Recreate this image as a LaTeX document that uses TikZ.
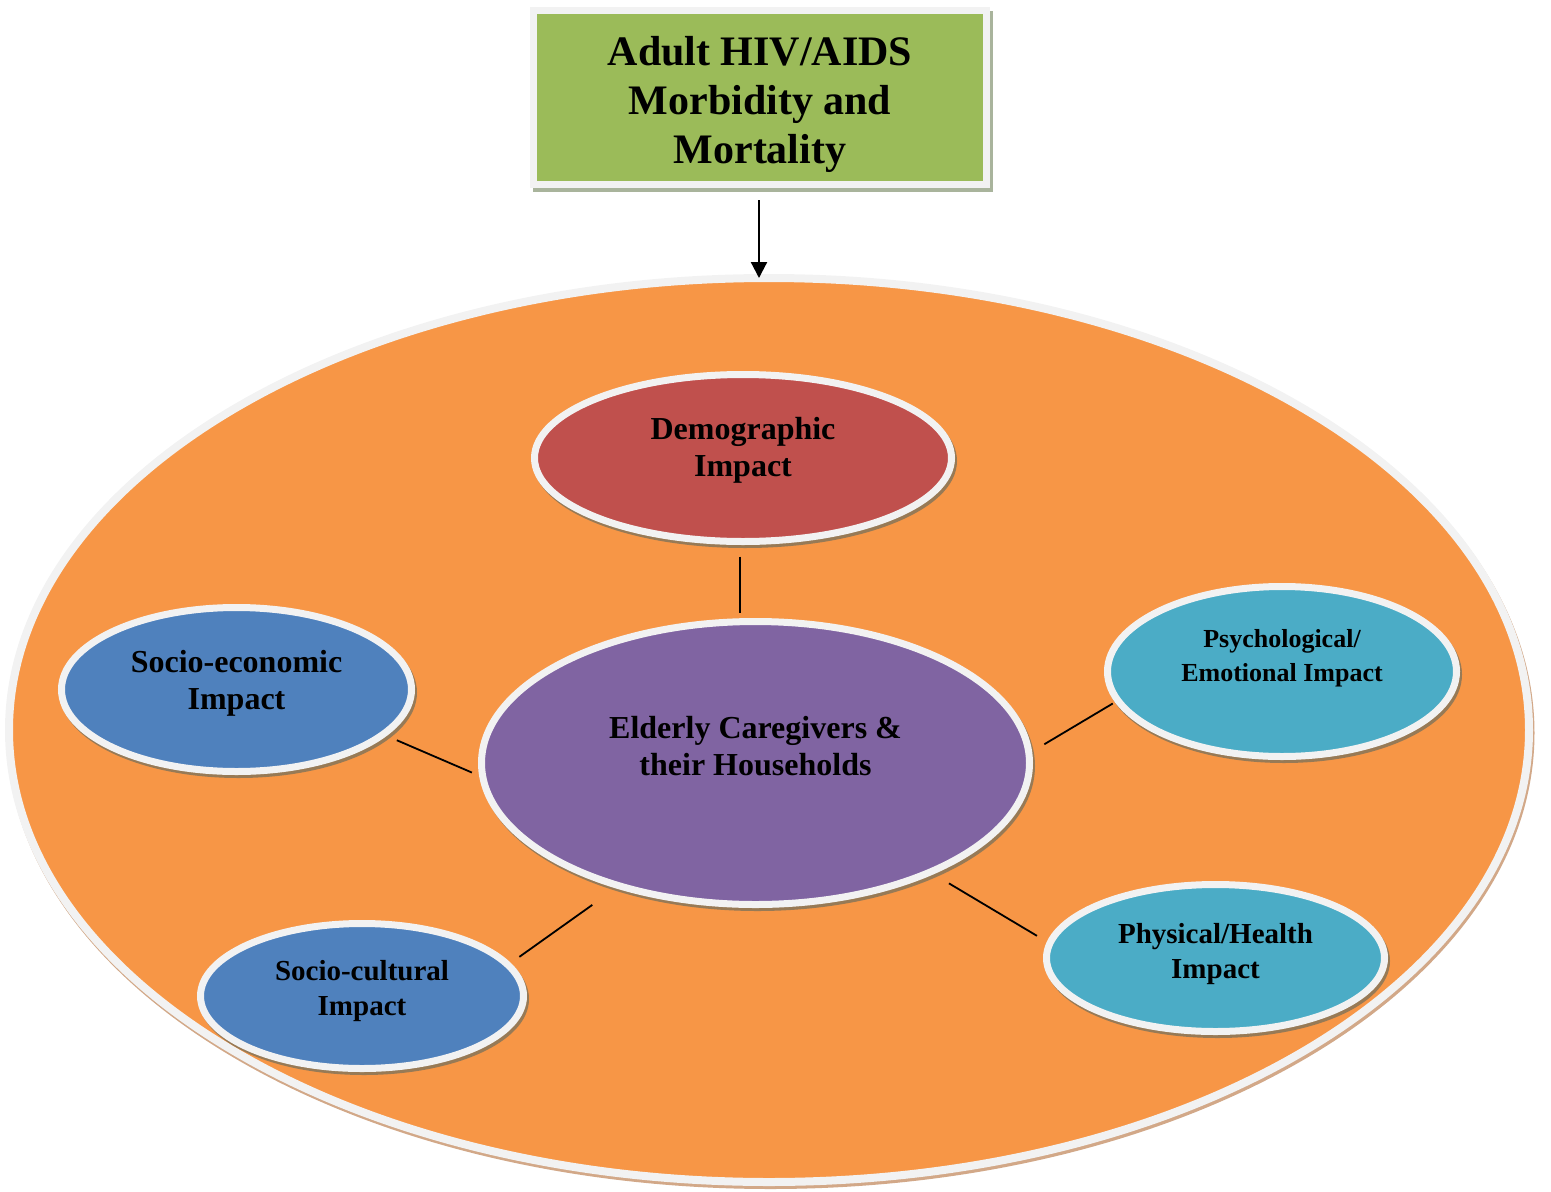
\documentclass[tikz,border=0pt]{standalone}
\usepackage{fontspec}
\setmainfont{Liberation Serif}
\usetikzlibrary{shapes.geometric,arrows.meta,shadows}
\definecolor{envorange}{HTML}{F79646}
\definecolor{titlegreen}{HTML}{9BBB59}
\definecolor{demored}{HTML}{C0504D}
\definecolor{centerpurple}{HTML}{8064A2}
\definecolor{socblue}{HTML}{4F81BD}
\definecolor{psyaqua}{HTML}{4BACC6}
\definecolor{rimcol}{HTML}{F2F2F2}
\definecolor{bubshadow}{HTML}{977A56}
\definecolor{envshadow}{HTML}{D2A888}
\definecolor{boxshadow}{HTML}{A9B49C}
\tikzset{
  bubble/.style={ellipse, draw=rimcol, line width=7pt, inner sep=0pt, outer sep=0pt,
    drop shadow={shadow xshift=2pt, shadow yshift=-3pt, opacity=1, fill=bubshadow, draw=bubshadow, line width=7pt}},
  lbl/.style={align=center, inner sep=0pt, text=black, font=\bfseries\fontsize{32}{37}\selectfont},
  lblsmall/.style={align=center, inner sep=0pt, text=black, font=\bfseries\fontsize{26}{34}\selectfont},
  lblmid/.style={align=center, inner sep=0pt, text=black, font=\bfseries\fontsize{29}{35}\selectfont},
  titlelbl/.style={align=center, inner sep=0pt, text=black, font=\bfseries\fontsize{42}{49}\selectfont},
  link/.style={draw=black, line width=1.8pt},
  arrowlink/.style={draw=black, line width=2.2pt, -{Triangle[length=16pt,width=16pt]}},
}
\begin{document}
\begin{tikzpicture}[x=1pt,y=-1pt]
\useasboundingbox (0,0) rectangle (1551,1192);

% title box
\node[rectangle, fill=titlegreen, draw=rimcol, line width=7pt, inner sep=0pt,
      minimum width=453pt, minimum height=174pt,
      drop shadow={shadow xshift=3pt, shadow yshift=-4pt, opacity=1, fill=boxshadow, draw=boxshadow, line width=7pt},
      label={[titlelbl, yshift=-7pt]center:Adult HIV/AIDS\\Morbidity and\\Mortality}]
  (title) at (760,97.5) {};

% environment ellipse
\node[ellipse, fill=envorange, draw=rimcol, line width=8pt, inner sep=0pt, outer sep=0pt,
      minimum width=1520pt, minimum height=904pt,
      drop shadow={shadow xshift=1.5pt, shadow yshift=-3pt, opacity=1, fill=envshadow, draw=envshadow, line width=8pt}]
  (env) at (769,730) {};

% bubbles
\node[bubble, fill=demored, minimum width=417pt, minimum height=167pt,
      label={[lbl, yshift=8pt]center:Demographic\\Impact}] (demo) at (743,458) {};
\node[bubble, fill=centerpurple, minimum width=548pt, minimum height=283pt,
      label={[lbl, yshift=17pt]center:Elderly Caregivers \&\\their Households}] (center) at (755.5,763) {};
\node[bubble, fill=socblue, minimum width=350pt, minimum height=164pt,
      label={[lbl, yshift=6pt]center:Socio-economic\\Impact}] (socecon) at (236.5,689.5) {};
\node[bubble, fill=psyaqua, minimum width=349pt, minimum height=170pt,
      label={[lblsmall, yshift=13pt]center:Psychological/\\Emotional Impact}] (psy) at (1282,671.5) {};
\node[bubble, fill=psyaqua, minimum width=338pt, minimum height=147pt,
      label={[lblmid, yshift=4pt]center:Physical/Health\\Impact}] (phys) at (1215.5,958) {};
\node[bubble, fill=socblue, minimum width=323pt, minimum height=145pt,
      label={[lblmid, yshift=5pt]center:Socio-cultural\\Impact}] (soccult) at (362,996) {};

% arrow
\draw[arrowlink, shorten <=12pt] ([xshift=-1pt]title.south) -- ([xshift=-1pt]title.south |- env.north);

% connectors
\draw[link, shorten <=15pt, shorten >=9pt] ([xshift=-3pt]demo.south) -- ([xshift=-3pt]demo.south |- center.north);
\draw[link, shorten <=15pt, shorten >=12pt] (socecon.-17) -- (center.-177);
\draw[link, shorten <=18pt, shorten >=6pt] (center.2.2) -- (psy.-170.6);
\draw[link, shorten <=22pt, shorten >=15pt] (center.-32.6) -- (phys.175.3);
\draw[link, shorten <=33pt, shorten >=14pt] (center.-138.5) -- (soccult.12.2);
\end{tikzpicture}
\end{document}
